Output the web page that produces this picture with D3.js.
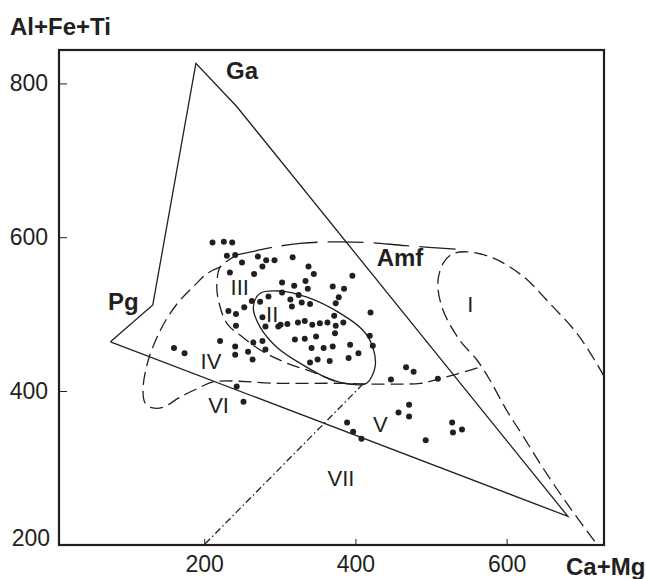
<!DOCTYPE html>
<html>
<head>
<meta charset="utf-8">
<script src="https://cdn.jsdelivr.net/npm/d3@7"></script>
<style>
  body { margin: 0; background: white; }
  text { font-family: "Liberation Sans", Arial, sans-serif; fill: #231f20; }
</style>
</head>
<body>
<div id="viz_area"></div>
<script>
var width = 646
var height = 579

// sample points, [Ca+Mg, Al+Fe+Ti]
var samples = [
  [211, 593], [226, 594], [237, 593], [230, 576], [241, 577], [271, 575], [282, 570], [293, 570],
  [317, 574], [250, 567], [277, 562], [338, 562], [234, 554], [266, 552], [345, 552], [396, 550],
  [303, 541], [319, 537], [334, 543], [337, 533], [370, 536], [385, 533], [303, 528], [314, 519],
  [325, 525], [378, 522], [263, 517], [274, 516], [285, 523], [316, 510], [329, 515], [340, 513],
  [374, 514], [232, 504], [242, 500], [253, 509], [277, 496], [420, 502], [372, 498], [242, 485],
  [281, 484], [298, 484], [301, 486], [310, 487], [324, 489], [333, 491], [343, 486], [353, 488],
  [363, 489], [374, 485], [384, 489], [373, 475], [419, 472], [423, 459], [320, 467], [333, 468],
  [348, 471], [221, 465], [160, 456], [174, 449], [241, 458], [265, 463], [277, 465], [258, 451],
  [264, 441], [241, 447], [281, 454], [342, 456], [358, 456], [370, 458], [393, 460], [404, 449],
  [391, 443], [340, 437], [350, 441], [366, 439], [447, 415], [243, 406], [252, 386], [467, 431],
  [477, 425], [509, 416], [471, 382], [457, 372], [471, 367], [528, 359], [541, 350], [529, 346],
  [493, 336], [389, 359], [397, 347], [408, 338]
]

// field boundaries
var gaField = [[76, 464], [132, 512], [189, 826], [243, 770], [681, 237], [76, 464]]
var amfTop = [[243, 577], [267, 582], [291, 587], [327, 592], [373, 594], [419, 593], [466, 589], [538, 584]]
var fieldIII = [[243, 577], [232, 570], [221, 561], [217, 544], [218, 522], [230, 488], [251, 470],
  [278, 451], [310, 436], [343, 425], [376, 412], [396, 409]]
var amfLoop = [[221, 561], [204, 553], [188, 538], [168, 518], [155, 501], [142, 479], [126, 440],
  [119, 401], [122, 384], [132, 378], [146, 379], [168, 392], [195, 405], [212, 412], [300, 410],
  [380, 410], [423, 409], [459, 409], [486, 410], [508, 415], [534, 422], [568, 432]]
var fieldI = [[729, 419], [719, 436], [693, 475], [657, 514], [622, 549], [582, 573], [547, 581],
  [528, 578], [516, 566], [509, 540], [516, 505], [538, 466], [561, 440], [578, 414], [600, 375],
  [622, 341], [648, 300], [684, 248], [720, 200]]
var fieldII = [[265, 509], [274, 527], [300, 530], [336, 522], [380, 501], [410, 479], [423, 457],
  [426, 431], [415, 410], [404, 408], [370, 414], [327, 436], [296, 457], [274, 483]]
var lineVII = [[410, 409], [200, 200]]

var fieldNames = ["Ga", "Pg", "Amf"]
var fieldNamePos = [[250, 806], [93, 505], [459, 562]]
var romans = ["I", "II", "III", "IV", "V", "VI", "VII"]
var romanPos = [[552, 503], [290, 490], [247, 525], [209, 429], [433, 347], [219, 371], [381, 276]]

var xTicks = [200, 400, 600]
var yTicks = [200, 400, 600, 800]

var svg = d3.select("#viz_area")
  .append("svg")
  .attr("width", width)
  .attr("height", height)
  .style("background-color", "white");

var frame = { left: 59, top: 50, right: 604, bottom: 545 }

var scX = d3.scaleLinear()
  .domain([200, 600])
  .range([204.2, 506.6])

var scY = d3.scaleLinear()
  .domain([200, 800])
  .range([544.8, 83.4])

svg.append("clipPath")
  .attr("id", "plotclip")
  .append("rect")
  .attr("x", frame.left)
  .attr("y", frame.top)
  .attr("width", frame.right - frame.left)
  .attr("height", frame.bottom - frame.top)

var line = d3.line()
  .x(d => scX(d[0]))
  .y(d => scY(d[1]))

var smooth = d3.line()
  .curve(d3.curveCatmullRom)
  .x(d => scX(d[0]))
  .y(d => scY(d[1]))

var smoothClosed = d3.line()
  .curve(d3.curveCatmullRomClosed)
  .x(d => scX(d[0]))
  .y(d => scY(d[1]))

var g = svg.append("g")
  .attr("clip-path", "url(#plotclip)")
  .attr("fill", "none")
  .attr("stroke", "#231f20")
  .attr("stroke-width", 1.3)

g.append("path").attr("d", line(gaField)).attr("stroke-linejoin", "miter")
g.append("path").attr("d", smooth(amfTop)).attr("stroke-dasharray", "36,10")
g.append("path").attr("d", smooth(fieldIII)).attr("stroke-dasharray", "13,6")
g.append("path").attr("d", smooth(amfLoop)).attr("stroke-dasharray", "13,6")
g.append("path").attr("d", smooth(fieldI)).attr("stroke-dasharray", "13,6")
g.append("path").attr("d", smoothClosed(fieldII))
g.append("path").attr("d", line(lineVII)).attr("stroke-dasharray", "7,3,1.5,3")

svg.append("g")
  .selectAll("circle")
  .data(samples)
  .enter()
  .append("circle")
  .attr("cx", d => scX(d[0]))
  .attr("cy", d => scY(d[1]))
  .attr("r", 3)
  .attr("fill", "#231f20")

svg.append("g")
  .selectAll("text")
  .data(fieldNames)
  .enter()
  .append("text")
  .attr("x", (d, i) => scX(fieldNamePos[i][0]))
  .attr("y", (d, i) => scY(fieldNamePos[i][1]))
  .attr("text-anchor", "middle")
  .style("font-size", "24px")
  .style("font-weight", "bold")
  .text(d => d)

svg.append("g")
  .selectAll("text")
  .data(romans)
  .enter()
  .append("text")
  .attr("x", (d, i) => scX(romanPos[i][0]))
  .attr("y", (d, i) => scY(romanPos[i][1]))
  .attr("text-anchor", "middle")
  .style("font-size", "22px")
  .text(d => d)

// axes
svg.append("g")
  .attr("transform", `translate(0,${frame.bottom})`)
  .call(d3.axisBottom(scX).tickValues(xTicks).tickSize(-6).tickPadding(11))
  .call(g => g.select(".domain").remove())
  .call(g => g.selectAll("line").attr("stroke", "#231f20").attr("stroke-width", 1))
  .call(g => g.selectAll("text").style("font-size", "23px").attr("font-family", null))

svg.append("g")
  .attr("transform", `translate(${frame.left},0)`)
  .call(d3.axisLeft(scY).tickValues(yTicks).tickSize(-8).tickPadding(11))
  .call(g => g.select(".domain").remove())
  .call(g => g.selectAll("line").attr("stroke", "#231f20").attr("stroke-width", 1))
  .call(g => g.selectAll("line").filter(d => d == 200).remove())
  .call(g => g.selectAll("text").style("font-size", "23px").attr("font-family", null))
  .call(g => g.selectAll("text").filter(d => d == 200).attr("x", -9).attr("y", -7))

svg.append("rect")
  .attr("x", frame.left)
  .attr("y", frame.top)
  .attr("width", frame.right - frame.left)
  .attr("height", frame.bottom - frame.top)
  .attr("fill", "none")
  .attr("stroke", "#231f20")
  .attr("stroke-width", 2.2)

svg.append("text")
  .attr("x", 10)
  .attr("y", 35)
  .style("font-size", "24px")
  .style("font-weight", "bold")
  .text("Al+Fe+Ti")

svg.append("text")
  .attr("x", 566)
  .attr("y", 575)
  .style("font-size", "24px")
  .style("font-weight", "bold")
  .text("Ca+Mg")
</script>
</body>
</html>
